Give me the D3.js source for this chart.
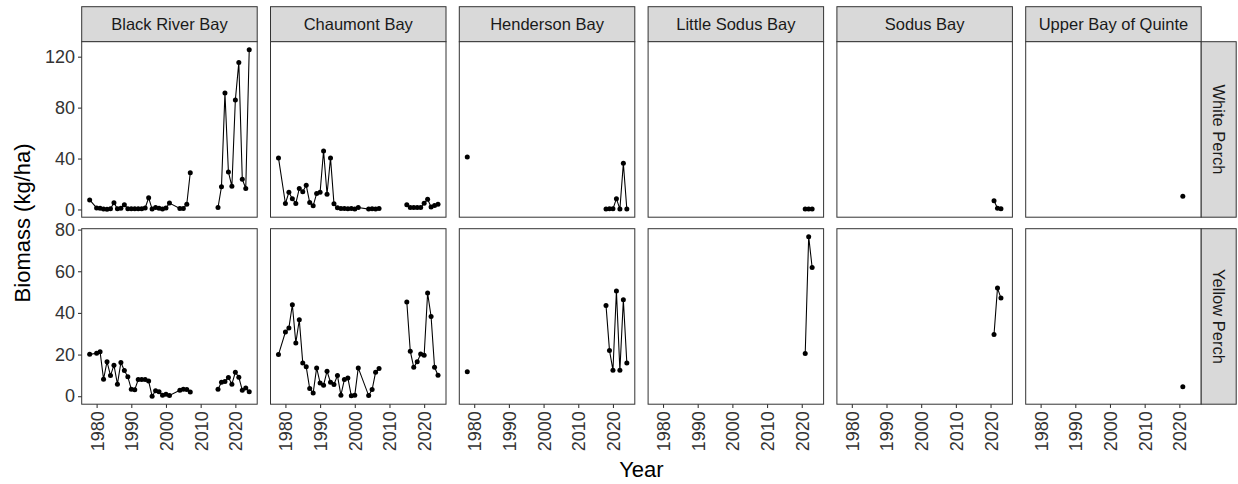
<!DOCTYPE html>
<html><head><meta charset="utf-8">
<script src="https://cdn.jsdelivr.net/npm/d3@7"></script>
<style>body{margin:0;background:#fff} text{font-family:Arial,"Liberation Sans",sans-serif}</style>
</head><body><svg id="c" width="1238" height="484"></svg>
<script>
// ---------------- data ----------------
const bays = ["Black River Bay","Chaumont Bay","Henderson Bay","Little Sodus Bay","Sodus Bay","Upper Bay of Quinte"];
const species = ["White Perch","Yellow Perch"];
const xTicks = [1980,1990,2000,2010,2020];
const yTicksWP = [0,40,80,120];
const yTicksYP = [0,20,40,60,80];

const longYears = [1978,1980,1981,1982,1983,1984,1985,1986,1987,1988,1989,1990,1991,1992,1993,1994,1995,1996,1997,1998,1999,2000,2001,2004,2005,2006,2007,2015,2016,2017,2018,2019,2020,2021,2022,2023,2024];
const brbWP = [7.5,1.2,1.0,0.3,0.2,0.5,5.3,0.5,1.0,3.8,0.5,0.5,0.5,0.5,0.5,1.2,9.2,0.3,1.5,1.0,0.3,1.2,5.0,0.8,0.8,4.2,28.8,1.5,17.8,91.5,29.5,18.2,86.0,115.5,23.8,16.5,125.5];
const brbYP = [20.1,20.6,21.3,8.2,16.6,9.9,14.9,5.8,16.2,12.4,9.3,3.4,3.1,8.0,8.0,8.0,7.3,0.0,2.6,2.2,0.5,1.0,0.4,2.9,3.4,3.2,2.0,3.4,6.7,7.1,9.0,5.8,11.5,9.1,2.9,4.0,2.1];
const chmWP = [40.5,4.7,13.5,8.5,4.7,16.5,14.0,19.0,5.5,2.9,12.5,13.5,46.0,12.0,40.5,4.5,1.3,0.8,0.8,0.5,0.8,0.3,1.5,0.3,0.5,0.3,0.8,3.8,1.5,1.5,1.5,1.5,4.8,8.0,2.0,3.2,4.2];
const chmYP = [20.0,30.8,32.8,43.9,25.6,36.7,16.0,14.1,3.7,1.5,13.6,6.4,5.3,12.0,6.7,5.6,9.9,0.5,8.0,8.8,0.2,0.5,13.6,0.3,3.2,11.5,13.3,45.2,21.6,13.9,16.5,20.3,19.7,49.5,38.3,13.9,10.1];

const hendYears = [1978,2018,2019,2020,2021,2022,2023,2024];
const hendWP = [41.3,0.3,0.5,0.5,8.5,0.3,36.3,0.3];
const hendYP = [11.8,43.6,22.0,12.5,50.5,12.5,46.3,16.0];

const lsodYears = [2021,2022,2023];
const lsodWP = [0.4,0.3,0.4];
const lsodYP = [20.5,76.6,61.8];

const sodYears = [2021,2022,2023];
const sodWP = [6.8,1.0,0.6];
const sodYP = [29.6,51.9,47.1];

const ubqYears = [2021];
const ubqWP = [10.3];
const ubqYP = [4.6];

// table built from the arrays
const seriesTable = [
  {bay:bays[0], years:longYears, wp:brbWP, yp:brbYP},
  {bay:bays[1], years:longYears, wp:chmWP, yp:chmYP},
  {bay:bays[2], years:hendYears, wp:hendWP, yp:hendYP},
  {bay:bays[3], years:lsodYears, wp:lsodWP, yp:lsodYP},
  {bay:bays[4], years:sodYears, wp:sodWP, yp:sodYP},
  {bay:bays[5], years:ubqYears, wp:ubqWP, yp:ubqYP}
];

// ---------------- layout ----------------
const L = {left:81.7, step:188.8, pw:175.5, stripTop:6.7, stripH:35, rowTop:[41.7,228.7], ph:175.5, rStripW:35};
const svg = d3.select("#c");

function expand(ext){ const r = ext[1]-ext[0]; return [ext[0]-0.05*r, ext[1]+0.05*r]; }
const allYears = seriesTable.flatMap(s=>s.years);
const x = d3.scaleLinear().domain(expand(d3.extent(allYears))).range([0, L.pw]);
const yWP = d3.scaleLinear().domain(expand(d3.extent(seriesTable.flatMap(s=>s.wp)))).range([L.ph, 0]);
const yYP = d3.scaleLinear().domain(expand(d3.extent(seriesTable.flatMap(s=>s.yp)))).range([L.ph, 0]);
const yScales = [yWP, yYP];
const yTicks = [yTicksWP, yTicksYP];

// split into line groups where survey gap is long
function groups(pts){
  const out=[]; let cur=[];
  pts.forEach((p,i)=>{ if(i>0 && p.year-pts[i-1].year>5){ out.push(cur); cur=[]; } cur.push(p); });
  if(cur.length) out.push(cur);
  return out;
}

const dark = "#333333";

seriesTable.forEach((s, ci)=>{
  const px = L.left + ci*L.step;
  // top strip
  svg.append("rect").attr("x",px).attr("y",L.stripTop).attr("width",L.pw).attr("height",L.stripH)
    .attr("fill","#D9D9D9").attr("stroke",dark).attr("stroke-width",1);
  svg.append("text").attr("x",px+L.pw/2).attr("y",L.stripTop+L.stripH/2).attr("dy","0.36em")
    .attr("text-anchor","middle").attr("font-size",16.5).attr("fill","#1a1a1a").text(s.bay);

  [s.wp, s.yp].forEach((vals, ri)=>{
    const py = L.rowTop[ri];
    const y = yScales[ri];
    const g = svg.append("g").attr("transform",`translate(${px},${py})`);
    g.append("rect").attr("width",L.pw).attr("height",L.ph).attr("fill","#fff");
    const pts = s.years.map((yr,i)=>({year:yr, v:vals[i]}));
    const line = d3.line().x(d=>x(d.year)).y(d=>y(d.v));
    groups(pts).forEach(gr=>{
      if(gr.length>1) g.append("path").attr("d",line(gr)).attr("fill","none").attr("stroke","#000").attr("stroke-width",1.07);
    });
    g.selectAll("circle").data(pts).join("circle").attr("cx",d=>x(d.year)).attr("cy",d=>y(d.v)).attr("r",2.5).attr("fill","#000");
    g.append("rect").attr("width",L.pw).attr("height",L.ph).attr("fill","none").attr("stroke",dark).attr("stroke-width",1);

    if(ci===0){
      const ax = g.append("g").call(d3.axisLeft(y).tickValues(yTicks[ri]).tickSize(3.7).tickPadding(3).tickFormat(d3.format("d")));
      ax.select(".domain").remove();
      ax.selectAll("line").attr("stroke",dark).attr("stroke-width",1.07);
      ax.selectAll("text").attr("font-size",18).attr("fill","#333").style("font-family","Arial, 'Liberation Sans', sans-serif");
    }
    if(ri===1){
      const ax = g.append("g").attr("transform",`translate(0,${L.ph})`)
        .call(d3.axisBottom(x).tickValues(xTicks).tickSize(3.7).tickFormat(d3.format("d")));
      ax.select(".domain").remove();
      ax.selectAll("line").attr("stroke",dark).attr("stroke-width",1.07);
      ax.selectAll("text").attr("font-size",18).attr("fill","#333").style("font-family","Arial, 'Liberation Sans', sans-serif")
        .attr("transform","rotate(-90)").attr("text-anchor","end").attr("x",-7).attr("y",0).attr("dy","0.36em");
    }
  });
});

// right strips
species.forEach((sp, ri)=>{
  const sx = L.left + 5*L.step + L.pw;
  const py = L.rowTop[ri];
  svg.append("rect").attr("x",sx).attr("y",py).attr("width",L.rStripW).attr("height",L.ph)
    .attr("fill","#D9D9D9").attr("stroke",dark).attr("stroke-width",1);
  svg.append("text").attr("transform",`translate(${sx+L.rStripW/2},${py+L.ph/2}) rotate(90)`)
    .attr("dy","0.36em").attr("text-anchor","middle").attr("font-size",16.5).attr("fill","#1a1a1a").text(sp);
});

// axis titles
const plotLeft = L.left, plotRight = L.left + 5*L.step + L.pw;
svg.append("text").attr("x",(plotLeft+plotRight)/2).attr("y",477).attr("text-anchor","middle")
  .attr("font-size",22).attr("fill","#000").text("Year");
svg.append("text").attr("transform",`translate(30,${(L.rowTop[0]+L.rowTop[1]+L.ph)/2}) rotate(-90)`)
  .attr("text-anchor","middle").attr("font-size",22).attr("fill","#000").text("Biomass (kg/ha)");
</script></body></html>
